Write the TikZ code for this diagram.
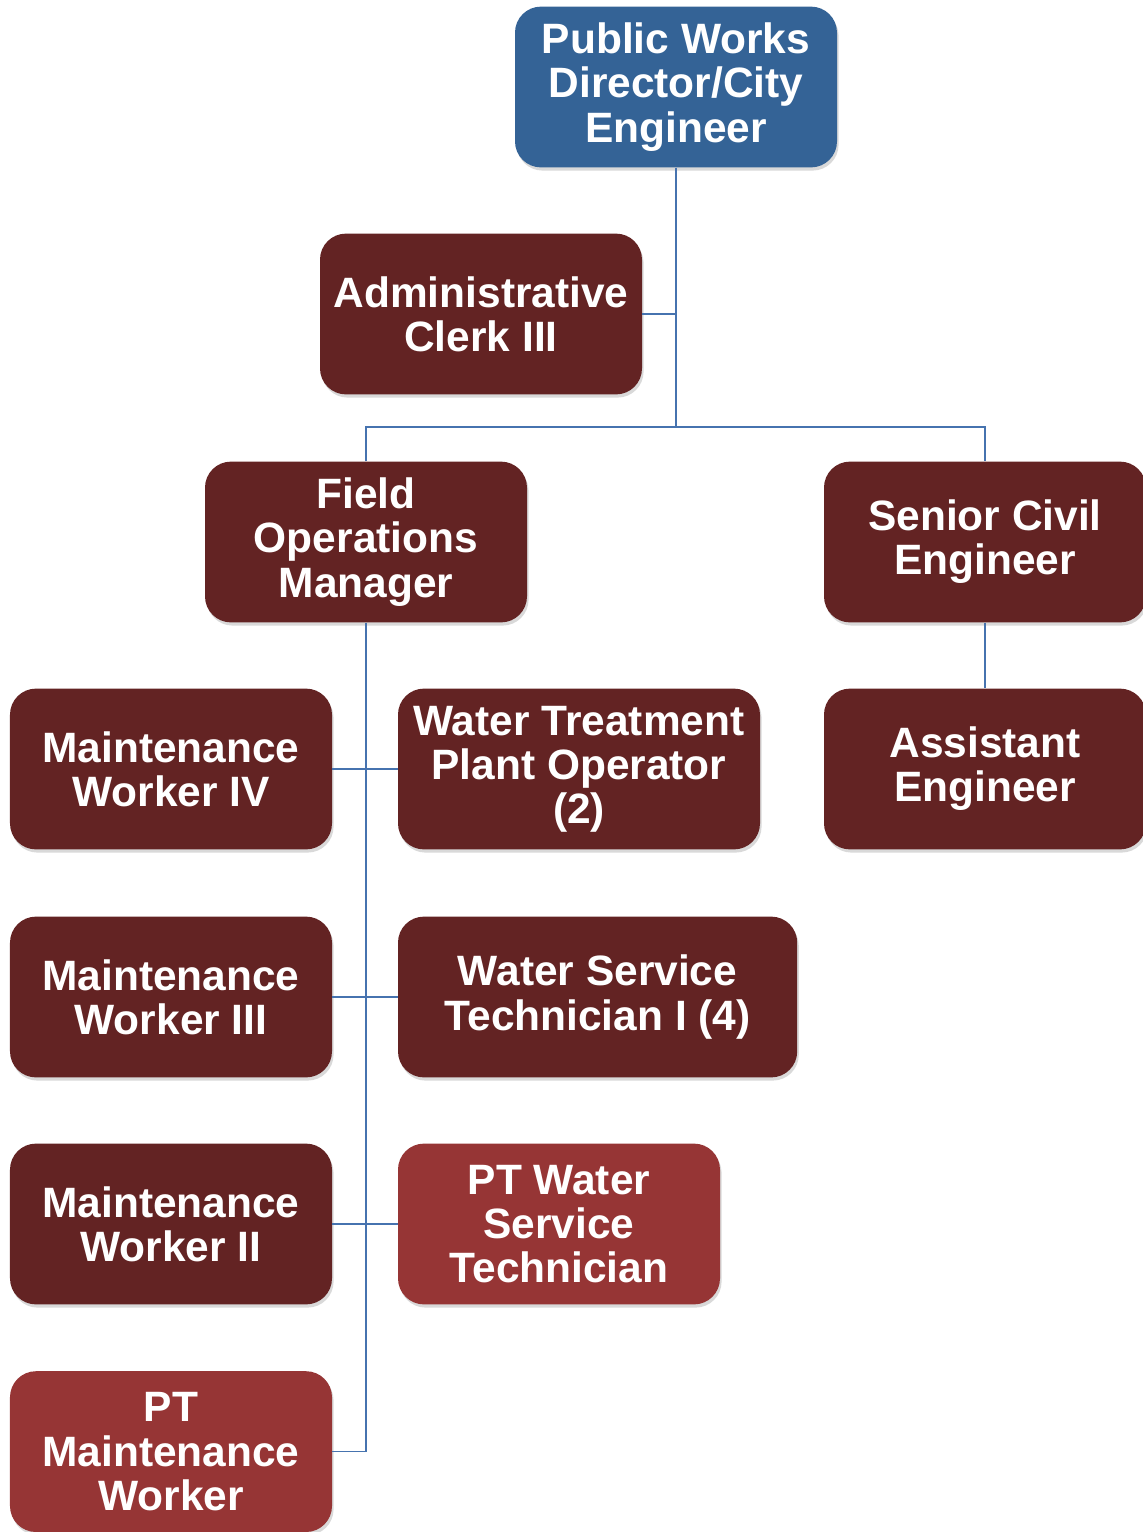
\documentclass[tikz,border=0pt]{standalone}
\usepackage{fontspec}
\setmainfont{Liberation Sans}
\usetikzlibrary{shadows}

\definecolor{pwblue}{RGB}{52,99,150}
\definecolor{darkred}{RGB}{99,35,35}
\definecolor{lightred}{RGB}{150,53,53}
\definecolor{linkblue}{RGB}{70,115,175}

\begin{document}
\begin{tikzpicture}[
        box/.style={fill=darkred, text=white, rounded corners=0.65cm, align=center,
            minimum width=8.05cm, minimum height=4.02cm, inner sep=0pt,
            font=\fontsize{30.2}{31.4}\selectfont\bfseries,
            drop shadow={shadow xshift=0.04cm, shadow yshift=-0.08cm, opacity=0.3}},
        ptbox/.style={box, fill=lightred},
        link/.style={draw=linkblue, line width=1pt}]
            \useasboundingbox (0,0) rectangle (28.575,-38.3);

            \node[box, fill=pwblue] (pwd) at (16.9,-2.175) {Public Works\\Director/City\\Engineer};
            \node[box] (acl) at (12.025,-7.85) {Administrative\\Clerk III};
            \node[box] (fom) at (9.15,-13.55) {Field\\Operations\\Manager};
            \node[box] (sce) at (24.625,-13.55) {Senior Civil\\Engineer};
            \node[box] (ae) at (24.625,-19.225) {Assistant\\Engineer};

            \node[box] (mw4) at (4.275,-19.225) {Maintenance\\Worker IV};
            \node[box, minimum width=9.05cm] (wtp) at (14.475,-19.225) {Water Treatment\\Plant Operator\\(2)};
            \node[box] (mw3) at (4.275,-24.925) {Maintenance\\Worker III};
            \node[box, minimum width=9.98cm] (wst) at (14.94,-24.925) {Water Service\\Technician I (4)};
            \node[box] (mw2) at (4.275,-30.6) {Maintenance\\Worker II};
            \node[ptbox] (ptw) at (13.975,-30.6) {PT Water\\Service\\Technician};
            \node[ptbox] (ptm) at (4.275,-36.29) {PT\\Maintenance\\Worker};

            \coordinate (bus) at (pwd.south |- 0,-10.675);
            \coordinate (spine) at (fom.south |- ptm.east);

            \draw[link] (pwd.south) -- (bus);
            \draw[link] (fom.north) |- (bus) -| (sce.north);
            \draw[link] (acl.east) -- (acl.east -| pwd.south);
            \draw[link] (sce.south) -- (ae.north);
            \draw[link] (fom.south) -- (spine) -- (ptm.east);
            \draw[link] (mw4.east) -- (wtp.west);
            \draw[link] (mw3.east) -- (wst.west);
            \draw[link] (mw2.east) -- (ptw.west);
        \end{tikzpicture}
\end{document}
